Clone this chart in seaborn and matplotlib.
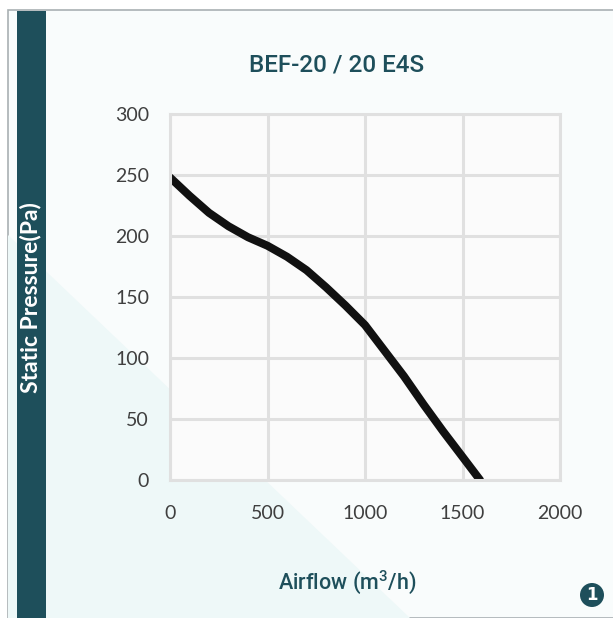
import matplotlib
matplotlib.use("Agg")
import matplotlib.pyplot as plt
import matplotlib.patches as mpatches
import seaborn as sns
import pandas as pd

# ---- data ----
airflow = [0, 100, 200, 300, 400, 500, 600, 700, 800, 900, 1000, 1100, 1200, 1300, 1400, 1500, 1590]
pressure = [248, 233, 219, 208, 199, 192, 183, 172, 158, 143, 127, 106, 85, 62, 40, 19, 0]
x_ticks = [0, 500, 1000, 1500, 2000]
y_ticks = [0, 50, 100, 150, 200, 250, 300]
title = "BEF-20 / 20 E4S"
x_label = "Airflow (m$^3$/h)"
y_label = "Static Pressure(Pa)"
badge = "1"

TEAL = "#1e4f5b"

sns.set_theme(style="whitegrid")
plt.rcParams["font.family"] = ["DejaVu Sans"]
plt.rcParams["mathtext.default"] = "regular"

fig = plt.figure(figsize=(6.13, 6.18), dpi=100)
fig.patch.set_facecolor("#ffffff")

W, H = 613, 618
def fx(px): return px / W
def fy(py): return 1 - py / H

# background panel with subtle diagonal shading
fig.patches.append(mpatches.Rectangle((fx(8), 0), 1, fy(10), transform=fig.transFigure,
                                      facecolor="#f9fcfc", edgecolor="#a9b0b3", linewidth=1.2, zorder=0))
fig.patches.append(mpatches.Polygon([(fx(8), fy(235)), (fx(8), 0), (fx(410), 0)], closed=True,
                                    transform=fig.transFigure, facecolor="#eef8f8", edgecolor="none", zorder=0))
# teal side bar
fig.patches.append(mpatches.Rectangle((fx(17), 0), fx(46) - fx(17), fy(11), transform=fig.transFigure,
                                      facecolor=TEAL, edgecolor="none", zorder=1))
fig.text(fx(31), fy(298), y_label, rotation=90, color="white", fontsize=16.5,
         fontweight="bold", ha="center", va="center", family=["Lato", "DejaVu Sans"])

ax = fig.add_axes([fx(170), fy(480), fx(560) - fx(170), fy(114) - fy(480)])
ax.set_zorder(5)
ax.set_facecolor("#fbfbfb")

df = pd.DataFrame({"airflow": airflow, "pressure": pressure})
sns.lineplot(data=df, x="airflow", y="pressure", ax=ax, color="#111111", linewidth=5.8,
             solid_capstyle="round", solid_joinstyle="round", sort=False)

ax.set_xlim(0, 2000)
ax.set_ylim(0, 300)
ax.set_xticks(x_ticks)
ax.set_yticks(y_ticks)
ax.grid(True, color="#e0e0e0", linewidth=2.2)
for s in ax.spines.values():
    s.set_color("#e0e0e0")
    s.set_linewidth(2.2)
ax.tick_params(axis="both", length=0, labelsize=14, labelcolor="#3f3f3f")
ax.tick_params(axis="x", pad=18)
ax.tick_params(axis="y", pad=15)
ax.set_xlabel("")
ax.set_ylabel("")
for lab in ax.get_xticklabels() + ax.get_yticklabels():
    lab.set_family(["Lato", "DejaVu Sans"])

fig.text(fx(337), fy(65), title, color=TEAL, fontsize=17.5, ha="center", va="center",
         family=["Roboto", "DejaVu Sans"], fontweight="medium")
fig.text(fx(347), fy(582), x_label, color=TEAL, fontsize=15.5, ha="center", va="center",
         family=["Roboto", "DejaVu Sans"], fontweight="medium")

# badge
fig.patches.append(mpatches.Ellipse((fx(592), fy(595)), 24 / W, 24 / H, transform=fig.transFigure,
                                    facecolor=TEAL, edgecolor="none", zorder=3))
fig.text(fx(592), fy(595), badge, color="white", fontsize=12, fontweight="bold",
         ha="center", va="center", zorder=4)

fig.savefig("out.png", dpi=100)
